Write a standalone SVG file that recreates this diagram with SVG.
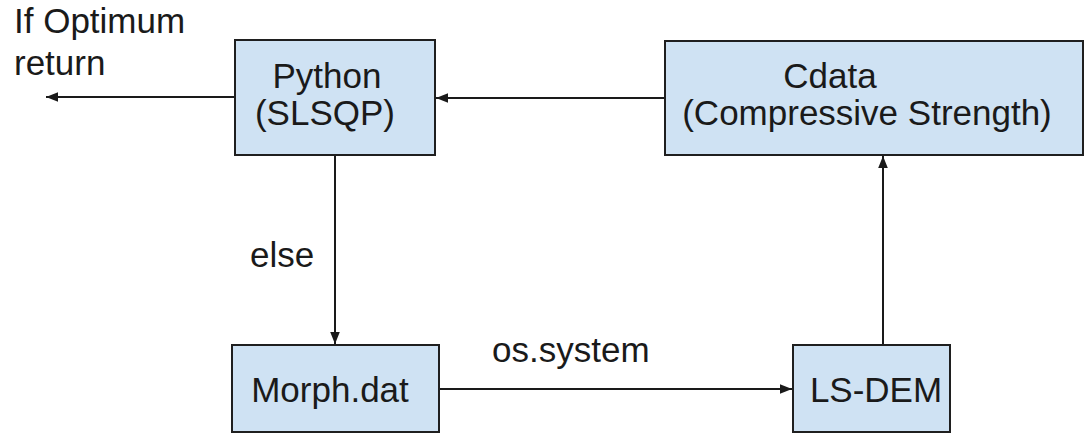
<svg xmlns="http://www.w3.org/2000/svg" width="1088" height="433" viewBox="0 0 1088 433">
<style>
.box{fill:#cfe2f3;stroke:#1f1f1f;stroke-width:2}
text{font-family:"Liberation Sans",Arial,sans-serif;font-size:35px;fill:#1a1a1a}
.c{stroke:#1a1a1a;stroke-width:2;fill:none}
</style>
<defs>
<marker id="ah" viewBox="0 0 10 10" refX="10" refY="5" markerWidth="6" markerHeight="6" orient="auto" markerUnits="strokeWidth">
<path d="M0,1 L10,5 L0,9 z" fill="#1a1a1a"/>
</marker>
</defs>
<rect width="1088" height="433" fill="#ffffff"/>
<g id="connectors">
<line class="c" x1="235" y1="97" x2="46" y2="97" marker-end="url(#ah)"/>
<line class="c" x1="665" y1="98" x2="436" y2="98" marker-end="url(#ah)"/>
<line class="c" x1="335" y1="155" x2="335" y2="344" marker-end="url(#ah)"/>
<line class="c" x1="439" y1="389" x2="792" y2="389" marker-end="url(#ah)"/>
<line class="c" x1="883" y1="345" x2="883" y2="156" marker-end="url(#ah)"/>
</g>
<g id="label-optimum">
<text x="14" y="33">If Optimum</text>
<text x="14" y="75">return</text>
</g>
<g id="label-else"><text x="250" y="267">else</text></g>
<g id="label-os"><text x="492" y="362">os.system</text></g>
<g id="python">
<rect class="box" x="235" y="40" width="200" height="115"/>
<text x="327" y="88" text-anchor="middle">Python</text>
<text x="325" y="125" text-anchor="middle">(SLSQP)</text>
</g>
<g id="cdata">
<rect class="box" x="665" y="41" width="418" height="114"/>
<text x="830" y="88" text-anchor="middle">Cdata</text>
<text x="867" y="125" text-anchor="middle">(Compressive Strength)</text>
</g>
<g id="morph">
<rect class="box" x="232" y="345" width="207" height="87"/>
<text x="330" y="402" text-anchor="middle">Morph.dat</text>
</g>
<g id="lsdem">
<rect class="box" x="793" y="345" width="157" height="87"/>
<text x="876" y="402" text-anchor="middle">LS-DEM</text>
</g>
</svg>
